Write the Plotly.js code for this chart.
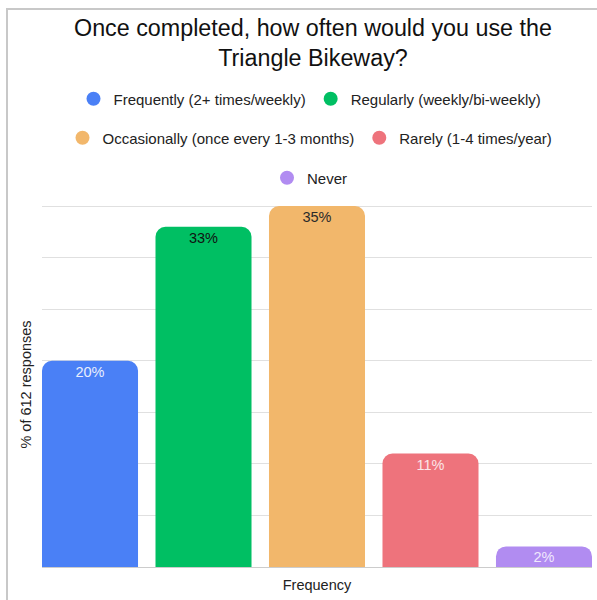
<!DOCTYPE html>
<html>
<head>
<meta charset="utf-8">
<script src="https://cdn.plot.ly/plotly-3.0.1.min.js"></script>
<style>html,body{margin:0;padding:0;background:#fff;}#chart{width:597px;height:600px;}</style>
</head>
<body>
<div id="chart"></div>
<script>
// Data
const categories = [
  "Frequently (2+ times/weekly)",
  "Regularly (weekly/bi-weekly)",
  "Occasionally (once every 1-3 months)",
  "Rarely (1-4 times/year)",
  "Never"
];
const percentValues = [20, 33, 35, 11, 2];
const barColors = ["#4a80f6", "#00bf63", "#f2b76b", "#ee737c", "#b18cf1"];
const labelColors = ["#e8eefd", "#111111", "#2a2a2a", "#fbe5e7", "#f0e8fd"];
const legendRows = ["legend", "legend", "legend2", "legend2", "legend3"];
const chartTitle = "Once completed, how often would you use the<br>Triangle Bikeway?";
const yTitle = "% of 612 responses";
const xTitle = "Frequency";

const FONT = "Arial, 'Liberation Sans', sans-serif";

const traces = [
  {
    // visible bars with rounded tops
    type: "bar",
    x: categories,
    y: percentValues,
    marker: {color: barColors, cornerradius: 10},
    showlegend: false,
    hoverinfo: "x+y"
  },
  {
    // same bars, transparent, carrying the value labels
    type: "bar",
    x: categories,
    y: percentValues,
    marker: {color: "rgba(0,0,0,0)"},
    texttemplate: "%{y}%",
    textposition: "inside",
    insidetextanchor: "end",
    constraintext: "none",
    textangle: 0,
    textfont: {family: FONT, size: 14.5, color: labelColors},
    showlegend: false,
    hoverinfo: "skip"
  }
];
// legend entries (circles)
categories.forEach((c, i) => {
  traces.push({
    type: "scatter",
    mode: "markers",
    x: [c],
    y: [null],
    name: c,
    legend: legendRows[i],
    marker: {color: barColors[i], size: 14, symbol: "circle"},
    showlegend: true,
    hoverinfo: "skip"
  });
});

const L = 42, R = 5, T = 202, B = 33;
const W = 597, H = 600;
const pw = W - L - R, ph = H - T - B;
const px = v => (v - L) / pw;
const py = v => (H - B - v) / ph;

const legendBase = {
  orientation: "h",
  xref: "container", yref: "container",
  x: 310 / W, xanchor: "center", yanchor: "middle",
  bgcolor: "rgba(0,0,0,0)",
  font: {family: FONT, size: 15, color: "#222222"},
  itemclick: false, itemdoubleclick: false
};

const layout = {
  width: W, height: H,
  margin: {l: L, r: R, t: T, b: B, pad: 0},
  paper_bgcolor: "#ffffff",
  plot_bgcolor: "#ffffff",
  font: {family: FONT, color: "#222222"},
  title: {
    text: chartTitle,
    font: {family: FONT, size: 23.3, color: "#111111"},
    xref: "container", yref: "container",
    x: 313 / W, xanchor: "center",
    y: 1 - 35.5 / H, yanchor: "middle"
  },
  legend: Object.assign({}, legendBase, {y: 1 - 99 / H}),
  legend2: Object.assign({}, legendBase, {y: 1 - 138 / H}),
  legend3: Object.assign({}, legendBase, {y: 1 - 178 / H}),
  barmode: "overlay",
  bargap: 0.154,
  xaxis: {
    type: "category",
    range: [-0.423, 4.423],
    showticklabels: false,
    showgrid: false,
    ticks: "",
    zeroline: false,
    showline: false,
    fixedrange: true,
    title: {text: xTitle, font: {family: FONT, size: 14.5, color: "#222222"}, standoff: 12}
  },
  yaxis: {
    range: [0, 35.4],
    dtick: 5,
    tick0: 0,
    showticklabels: false,
    ticks: "",
    showgrid: true,
    gridcolor: "#e0e0e0",
    gridwidth: 1,
    zeroline: true,
    zerolinecolor: "#cccccc",
    zerolinewidth: 1,
    fixedrange: true,
    title: {text: yTitle, font: {family: FONT, size: 14.5, color: "#222222"}, standoff: 5}
  },
  shapes: [
    {type: "line", xref: "paper", yref: "paper", x0: px(7), x1: px(7), y0: py(8), y1: py(600),
     line: {color: "#c8c8c8", width: 2}, layer: "above"},
    {type: "line", xref: "paper", yref: "paper", x0: px(6), x1: px(597), y0: py(9), y1: py(9),
     line: {color: "#c8c8c8", width: 2}, layer: "above"}
  ]
};

Plotly.newPlot("chart", traces, layout, {displayModeBar: false});
</script>
</body>
</html>
